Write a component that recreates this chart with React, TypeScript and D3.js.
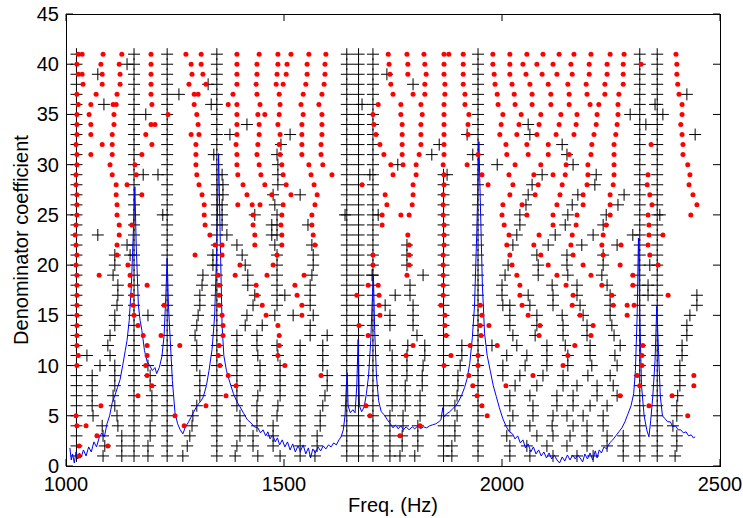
import React from 'react';
import * as d3 from 'd3';

const W = 743;
const H = 518;
const PL = 66, PR = 720, PT = 14, PB = 466;

const xTicks = [1000, 1500, 2000, 2500];
const yTicks = [0, 5, 10, 15, 20, 25, 30, 35, 40, 45];
const xLabel = 'Freq. (Hz)';
const yLabel = 'Denominator coefficient';

// physical (stable) modes: crosses at (nearly) constant frequency over an order range
const stableModes: { f: number; from: number; to: number }[] = [
  { f: 1024, from: 1, to: 41 },
  { f: 1156, from: 1, to: 41 },
  { f: 1232, from: 1, to: 41 },
  { f: 1346, from: 1, to: 41 },
  { f: 1644, from: 1, to: 41 },
  { f: 1671, from: 1, to: 41 },
  { f: 1704, from: 1, to: 41 },
  { f: 1866, from: 1, to: 29 },
  { f: 1945, from: 1, to: 41 },
  { f: 2316, from: 1, to: 41 },
  { f: 2356, from: 1, to: 41 },
];

// other stable poles ("+"), index 0 = order 1
const crossPoles: number[][] = [
  /* 1 */ [1085, 1128, 1188, 1268, 1388, 1440, 1491, 1537, 1571, 1743, 1766, 1800, 1885, 2018, 2064, 2117, 2172, 2209, 2278, 2397],
  /* 2 */ [1089, 1128, 1188, 1278, 1392, 1429, 1475, 1537, 1576, 1743, 1771, 1807, 1885, 2018, 2057, 2103, 2149, 2195, 2241, 2278, 2401],
  /* 3 */ [1085, 1128, 1193, 1284, 1399, 1429, 1475, 1537, 1576, 1743, 1771, 1807, 1892, 2011, 2080, 2117, 2156, 2195, 2241, 2278, 2401],
  /* 4 */ [1083, 1119, 1193, 1289, 1399, 1438, 1475, 1537, 1583, 1743, 1773, 1807, 1892, 2018, 2064, 2115, 2163, 2195, 2232, 2392],
  /* 5 */ [1062, 1117, 1197, 1291, 1399, 1438, 1484, 1537, 1583, 1743, 1773, 1812, 1897, 2025, 2071, 2117, 2149, 2186, 2232, 2401],
  /* 6 */ [1060, 1112, 1197, 1300, 1392, 1438, 1486, 1537, 1589, 1748, 1778, 1812, 1892, 2018, 2071, 2126, 2163, 2202, 2241, 2401],
  /* 7 */ [1060, 1108, 1197, 1307, 1392, 1440, 1491, 1537, 1594, 1748, 1778, 1812, 1897, 2018, 2064, 2126, 2163, 2218, 2264, 2403],
  /* 8 */ [1060, 1112, 1193, 1307, 1392, 1445, 1491, 1537, 1599, 1748, 1778, 1817, 1899, 2030, 2080, 2140, 2172, 2218, 2255, 2408],
  /* 9 */ [1060, 1112, 1193, 1307, 1392, 1445, 1491, 1537, 1599, 1748, 1782, 1817, 1899, 2002, 2041, 2094, 2140, 2197, 2248, 2408],
  /* 10 */ [1078, 1112, 1188, 1300, 1392, 1445, 1491, 1537, 1589, 1748, 1782, 1819, 1904, 2002, 2053, 2103, 2151, 2206, 2264, 2408],
  /* 11 */ [1048, 1101, 1300, 1392, 1440, 1486, 1537, 1589, 1748, 1782, 1823, 1908, 2011, 2057, 2103, 2151, 2202, 2259, 2413],
  /* 12 */ [1096, 1300, 1392, 1438, 1484, 1537, 1589, 1743, 1784, 1823, 1908, 1977, 2034, 2103, 2145, 2202, 2271, 2413],
  /* 13 */ [1101, 1296, 1392, 1438, 1560, 1599, 1805, 2025, 2076, 2140, 2195, 2257, 2424],
  /* 14 */ [1112, 1300, 1411, 1450, 1560, 1743, 1796, 2018, 2080, 2140, 2195, 2252, 2424],
  /* 15 */ [1112, 1188, 1303, 1415, 1479, 1521, 1567, 1743, 1796, 2018, 2080, 2138, 2186, 2248, 2431],
  /* 16 */ [1117, 1307, 1429, 1484, 1560, 1732, 1796, 2002, 2018, 2064, 2117, 2179, 2248, 2447],
  /* 17 */ [1119, 1307, 1433, 1484, 1502, 1560, 1755, 1789, 2000, 2060, 2117, 2172, 2248, 2335, 2447],
  /* 18 */ [1119, 1312, 1417, 1484, 1560, 1789, 2000, 2115, 2172, 2241, 2335],
  /* 19 */ [1108, 1314, 1417, 1484, 1564, 1702, 1819, 2007, 2083, 2151, 2229],
  /* 20 */ [1112, 1337, 1411, 1484, 1567, 1782, 2014, 2083, 2149, 2232, 2339],
  /* 21 */ [1112, 1147, 1337, 1404, 1484, 1567, 1782, 2080, 2149, 2232],
  /* 22 */ [1140, 1392, 1479, 1564, 1782, 2025, 2106, 2183, 2264],
  /* 23 */ [1073, 1369, 1472, 1484, 2034, 2122, 2209, 2300],
  /* 24 */ [1358, 1472, 1484, 1555, 2041, 2145, 2232],
  /* 25 */ [1222, 1358, 1433, 1484, 1640, 1716, 2041, 2151, 2239, 2362],
  /* 26 */ [1358, 1479, 2055, 2161, 2266],
  /* 27 */ [1360, 1475, 1537, 2060, 2174, 2280],
  /* 28 */ [1360, 1486, 2069, 2213],
  /* 29 */ [1177, 1211, 1358, 1486, 1697, 1874, 2092, 2216],
  /* 30 */ [1486, 1761, 1989, 2163],
  /* 31 */ [1339, 1484, 1839, 1933, 2149],
  /* 32 */ [1493, 1856, 2138],
  /* 33 */ [1376, 1514, 1920, 2064, 2443],
  /* 34 */ [1415, 2060, 2330],
  /* 35 */ [1183, 2294, 2369],
  /* 36 */ [1087, 1333, 1679, 2351],
  /* 37 */ [1259, 2424],
  /* 38 */ [1326, 1796],
  /* 39 */ [1073, 1736],
  /* 40 */ [1140],
  /* 41 */ [],
];

// unstable poles (red dots), index 0 = order 1
const dotPoles: number[][] = [
  /* 1 */ [1030],
  /* 2 */ [1030, 1096],
  /* 3 */ [1071, 1766],
  /* 4 */ [1025, 1046, 1271, 1812],
  /* 5 */ [1023, 1250, 1697, 1966, 2426],
  /* 6 */ [1080, 1321, 1688, 1954, 2337],
  /* 7 */ [1165, 1367, 1943, 2271, 2390],
  /* 8 */ [1197, 1390, 1933, 2009, 2316, 2440],
  /* 9 */ [1186, 1372, 1585, 1924, 2071, 2310, 2440],
  /* 10 */ [1025, 1183, 1353, 1502, 1867, 1945, 2140, 2321],
  /* 11 */ [1028, 1186, 1349, 1486, 1780, 1883, 1945, 2151, 2321],
  /* 12 */ [1025, 1186, 1261, 1351, 1489, 1796, 1927, 1989, 2167, 2323],
  /* 13 */ [1025, 1177, 1218, 1360, 1489, 1693, 1872, 1952, 2085, 2204],
  /* 14 */ [1025, 1165, 1360, 1486, 1672, 1869, 1950, 1970, 2087, 2209],
  /* 15 */ [1025, 1156, 1358, 1459, 1541, 1720, 1869, 1954, 2060, 2179, 2287],
  /* 16 */ [1025, 1154, 1225, 1351, 1450, 1541, 1718, 1860, 1950, 2046, 2161, 2255, 2287, 2303],
  /* 17 */ [1025, 1151, 1351, 1438, 1530, 1667, 1718, 1865, 2041, 2163, 2252, 2381],
  /* 18 */ [1025, 1147, 1186, 1351, 1436, 1525, 1693, 1716, 1865, 2041, 2147, 2229, 2300],
  /* 19 */ [1025, 1076, 1147, 1349, 1388, 1461, 1546, 1782, 1865, 2034, 2126, 2204, 2300],
  /* 20 */ [1023, 1142, 1399, 1475, 1704, 1787, 1865, 2023, 2106, 2186, 2271, 2358],
  /* 21 */ [1025, 1117, 1296, 1358, 1484, 1704, 1787, 1865, 2018, 2089, 2163, 2232, 2339],
  /* 22 */ [1023, 1117, 1342, 1358, 1433, 1495, 1571, 1787, 1867, 2011, 2073, 2158, 2229, 2273, 2335],
  /* 23 */ [1021, 1122, 1330, 1433, 1495, 1567, 1784, 1867, 2016, 2085, 2161, 2232, 2337, 2369],
  /* 24 */ [1023, 1122, 1151, 1319, 1429, 1493, 1564, 1725, 1867, 2005, 2117, 2170, 2239, 2337],
  /* 25 */ [1025, 1117, 1317, 1429, 1495, 1564, 1725, 1768, 1787, 1865, 2000, 2057, 2117, 2172, 2248, 2335, 2433],
  /* 26 */ [1025, 1117, 1317, 1394, 1427, 1445, 1498, 1571, 1736, 1794, 1865, 2002, 2046, 2126, 2186, 2248, 2344, 2447],
  /* 27 */ [1025, 1115, 1174, 1312, 1415, 1472, 1516, 1576, 1732, 1796, 1865, 2018, 2076, 2133, 2186, 2248, 2339, 2438],
  /* 28 */ [1023, 1115, 1140, 1305, 1406, 1456, 1505, 1569, 1679, 1796, 1867, 1968, 2025, 2083, 2138, 2195, 2255, 2333, 2429],
  /* 29 */ [1023, 1106, 1161, 1300, 1394, 1447, 1498, 1562, 1610, 1750, 1803, 1867, 1954, 2016, 2073, 2117, 2145, 2197, 2257, 2335, 2431],
  /* 30 */ [1025, 1101, 1158, 1298, 1392, 1443, 1495, 1557, 1589, 1745, 1773, 1803, 1865, 1920, 2030, 2089, 2147, 2197, 2257, 2426],
  /* 31 */ [1025, 1057, 1106, 1174, 1298, 1392, 1438, 1491, 1541, 1585, 1729, 1771, 1810, 1867, 1945, 2011, 2060, 2106, 2154, 2204, 2257, 2415],
  /* 32 */ [1023, 1083, 1106, 1197, 1298, 1390, 1440, 1489, 1541, 1585, 1720, 1771, 1814, 1867, 2009, 2057, 2106, 2206, 2257, 2342, 2415],
  /* 33 */ [1025, 1057, 1106, 1183, 1287, 1305, 1392, 1443, 1491, 1541, 1587, 1711, 1771, 1814, 1867, 1922, 1995, 2034, 2080, 2124, 2165, 2211, 2261, 2413],
  /* 34 */ [1025, 1057, 1110, 1195, 1204, 1303, 1392, 1443, 1486, 1541, 1587, 1706, 1771, 1814, 1867, 1922, 1998, 2039, 2085, 2131, 2170, 2216, 2264, 2410],
  /* 35 */ [1025, 1053, 1110, 1234, 1300, 1392, 1440, 1456, 1489, 1544, 1587, 1704, 1768, 1817, 1867, 1924, 2002, 2044, 2089, 2135, 2172, 2218, 2266, 2413],
  /* 36 */ [1028, 1057, 1108, 1115, 1197, 1294, 1372, 1392, 1445, 1491, 1539, 1580, 1716, 1768, 1814, 1867, 1915, 1991, 2030, 2069, 2112, 2154, 2202, 2222, 2266, 2413],
  /* 37 */ [1025, 1069, 1117, 1195, 1294, 1303, 1383, 1438, 1489, 1544, 1587, 1750, 1796, 1823, 1869, 1915, 1989, 2028, 2069, 2112, 2154, 2195, 2236, 2268, 2406],
  /* 38 */ [1039, 1083, 1124, 1195, 1282, 1321, 1392, 1436, 1482, 1498, 1550, 1592, 1745, 1823, 1869, 1911, 1984, 2023, 2064, 2106, 2151, 2193, 2236, 2278, 2403],
  /* 39 */ [1028, 1037, 1083, 1124, 1195, 1289, 1314, 1392, 1438, 1484, 1505, 1553, 1594, 1743, 1784, 1826, 1867, 1911, 1982, 2018, 2055, 2092, 2126, 2161, 2200, 2241, 2278, 2401],
  /* 40 */ [1025, 1080, 1122, 1195, 1287, 1310, 1392, 1438, 1486, 1507, 1553, 1594, 1741, 1784, 1823, 1867, 1911, 1979, 2018, 2048, 2080, 2117, 2158, 2200, 2241, 2278, 2319, 2401],
  /* 41 */ [1028, 1037, 1085, 1128, 1195, 1275, 1310, 1392, 1443, 1486, 1516, 1557, 1596, 1739, 1782, 1821, 1867, 1878, 1911, 1979, 2018, 2057, 2094, 2131, 2165, 2204, 2248, 2280, 2399],
];

// measured FRF magnitude (scaled to the order axis): [frequency Hz, level]
const frfPoints: [number, number][] = [
  [1009, 1.8], [1012, 0.6], [1015, 1.2], [1019, 0.3], [1023, 1.4], [1027, 0.7], [1031, 1.3], [1035, 0.9],
  [1040, 1.6], [1046, 1.0], [1052, 1.9], [1058, 1.4], [1064, 2.4], [1070, 1.9], [1076, 2.8], [1082, 3.3],
  [1088, 2.9], [1094, 4.2], [1100, 5.0], [1106, 6.3], [1112, 7.0], [1118, 7.8], [1124, 8.6], [1130, 10.0],
  [1136, 11.5], [1140, 12.5], [1145, 14.5], [1150, 18.0], [1155, 24.0], [1158, 27.8], [1161, 22.0],
  [1166, 16.0], [1170, 14.5], [1174, 13.5], [1180, 11.5], [1186, 10.4], [1192, 10.0], [1198, 9.5],
  [1204, 9.8], [1208, 9.2], [1214, 9.8], [1220, 10.9], [1225, 13.0], [1229, 17.0], [1232, 20.7],
  [1235, 16.0], [1239, 12.6], [1244, 8.5], [1250, 5.3], [1256, 4.2], [1262, 3.6], [1268, 3.2],
  [1274, 3.9], [1280, 4.3], [1286, 4.8], [1292, 5.3], [1298, 5.8], [1304, 6.2], [1310, 6.5], [1315, 6.9],
  [1322, 8.0], [1328, 9.5], [1335, 11.6], [1341, 15.0], [1346, 22.0], [1350, 31.1], [1354, 22.0],
  [1358, 14.0], [1362, 11.0], [1368, 9.5], [1376, 8.3], [1384, 7.2], [1392, 6.4], [1399, 5.9],
  [1408, 5.2], [1416, 4.6], [1424, 4.3], [1432, 3.9], [1440, 3.8], [1446, 3.3], [1452, 3.6], [1458, 3.0],
  [1463, 3.4], [1468, 2.7], [1474, 3.1], [1480, 2.4], [1485, 2.8], [1490, 2.1], [1496, 2.6], [1502, 1.9],
  [1508, 2.4], [1514, 1.6], [1520, 2.2], [1526, 1.4], [1532, 2.0], [1538, 1.5], [1544, 2.1], [1550, 1.2],
  [1556, 1.8], [1561, 0.8], [1566, 1.7], [1572, 1.3], [1578, 1.9], [1584, 1.5], [1590, 2.0], [1596, 1.7],
  [1602, 2.1], [1608, 1.9], [1614, 2.3], [1620, 2.1], [1626, 2.6], [1631, 2.9], [1636, 3.6], [1640, 5.0],
  [1643, 8.0], [1645, 9.3], [1647, 6.0], [1652, 5.3], [1658, 5.6], [1663, 5.3], [1667, 8.0], [1670, 12.6],
  [1673, 6.0], [1678, 5.4], [1684, 5.9], [1689, 7.2], [1694, 9.0], [1699, 12.5], [1702, 16.0],
  [1705, 19.1], [1708, 13.5], [1712, 9.0], [1717, 6.5], [1723, 5.4], [1730, 5.1], [1737, 4.6],
  [1744, 4.2], [1750, 3.8], [1756, 4.1], [1762, 3.7], [1768, 4.0], [1774, 3.6], [1780, 3.9], [1787, 3.6],
  [1794, 3.9], [1800, 3.7], [1807, 4.0], [1813, 3.7], [1820, 3.9], [1827, 3.8], [1834, 4.0], [1841, 4.1],
  [1848, 4.2], [1855, 4.4], [1860, 4.6], [1864, 5.8], [1867, 4.9], [1873, 5.2], [1880, 5.4], [1887, 5.7],
  [1894, 6.0], [1900, 6.4], [1907, 7.0], [1914, 7.8], [1920, 8.7], [1926, 10.2], [1932, 12.8],
  [1937, 16.0], [1942, 23.0], [1947, 32.3], [1951, 25.0], [1955, 18.0], [1960, 13.2], [1966, 11.0],
  [1973, 9.5], [1980, 8.0], [1987, 6.9], [1994, 5.8], [2002, 4.7], [2010, 3.9], [2017, 3.4], [2024, 3.2],
  [2030, 2.7], [2036, 3.0], [2042, 2.3], [2048, 2.6], [2054, 1.8], [2060, 2.2], [2066, 1.4], [2072, 1.9],
  [2078, 1.2], [2084, 1.6], [2090, 1.0], [2096, 1.4], [2102, 0.8], [2108, 1.3], [2114, 0.7], [2120, 1.1],
  [2126, 0.6], [2132, 0.3], [2138, 0.9], [2144, 0.5], [2150, 1.1], [2156, 0.6], [2162, 1.1], [2168, 0.7],
  [2174, 1.1], [2179, 0.8], [2185, 0.4], [2190, 1.2], [2196, 0.7], [2202, 1.3], [2208, 0.6], [2214, 1.5],
  [2218, 0.8], [2223, 1.6], [2228, 1.3], [2234, 1.9], [2240, 1.7], [2247, 2.3], [2254, 2.6], [2261, 3.0],
  [2268, 3.4], [2275, 3.8], [2282, 4.4], [2289, 5.2], [2296, 6.0], [2302, 7.2], [2306, 9.5],
  [2310, 15.0], [2313, 22.7], [2316, 15.0], [2320, 8.0], [2326, 5.0], [2332, 3.6], [2337, 2.9],
  [2341, 4.5], [2346, 7.0], [2351, 10.5], [2355, 15.9], [2359, 11.5], [2363, 7.0], [2368, 5.0],
  [2374, 4.7], [2380, 4.4], [2386, 4.4], [2392, 3.9], [2398, 4.0], [2404, 3.6], [2410, 3.6], [2416, 3.3],
  [2422, 3.4], [2428, 3.0], [2434, 3.1], [2439, 2.8], [2443, 2.9],
];

const FONT = '"Liberation Sans", Arial, Helvetica, sans-serif';
const FS = 20;

export default function App() {
  const x = d3.scaleLinear().domain([1000, 2500]).range([PL, PR]);
  const y = d3.scaleLinear().domain([0, 45]).range([PB, PT]);

  const ch = 6; // cross half width
  const cv = 6; // cross half height
  const crossPath = (f: number, n: number) => {
    const cx = x(f);
    const cy = y(n);
    return `M${cx - ch},${cy}H${cx + ch}M${cx},${cy - cv}V${cy + cv}`;
  };

  let crossD = '';
  stableModes.forEach((m) => {
    for (let n = m.from; n <= m.to; n++) crossD += crossPath(m.f, n);
  });
  crossPoles.forEach((row, i) => {
    row.forEach((f) => {
      crossD += crossPath(f, i + 1);
    });
  });

  const dots: { cx: number; cy: number }[] = [];
  dotPoles.forEach((row, i) => {
    row.forEach((f) => dots.push({ cx: x(f), cy: y(i + 1) }));
  });

  const line = d3
    .line<[number, number]>()
    .x((d) => x(d[0]))
    .y((d) => y(d[1]));

  const tl = 7;

  return (
    <svg width={W} height={H} style={{ display: 'block', position: 'absolute', left: 0, top: 0, background: '#fff' }}>
      <rect x={0} y={0} width={W} height={H} fill="#fff" />
      <path d={crossD} stroke="#000" strokeWidth={1} fill="none" />
      <path d={line(frfPoints) || ''} stroke="#0000ff" strokeWidth={1} fill="none" />
      {dots.map((d, i) => (
        <circle key={i} cx={d.cx} cy={d.cy} r={2.5} fill="#ff0000" />
      ))}
      {/* axes box */}
      <rect x={PL + 0.5} y={PT + 0.5} width={PR - PL} height={PB - PT} fill="none" stroke="#000" strokeWidth={1} />
      {xTicks.map((t) => (
        <g key={'x' + t}>
          <line x1={x(t)} x2={x(t)} y1={PB} y2={PB - tl} stroke="#000" />
          <line x1={x(t)} x2={x(t)} y1={PT} y2={PT + tl} stroke="#000" />
          <text x={x(t)} y={491} textAnchor="middle" fontFamily={FONT} fontSize={FS} fill="#000">
            {t}
          </text>
        </g>
      ))}
      {yTicks.map((t) => (
        <g key={'y' + t}>
          <line x1={PL} x2={PL + tl} y1={y(t)} y2={y(t)} stroke="#000" />
          <line x1={PR} x2={PR - tl} y1={y(t)} y2={y(t)} stroke="#000" />
          <text x={59} y={y(t) + 7} textAnchor="end" fontFamily={FONT} fontSize={FS} fill="#000">
            {t}
          </text>
        </g>
      ))}
      <text x={(PL + PR) / 2} y={512} textAnchor="middle" fontFamily={FONT} fontSize={FS} fill="#000">
        {xLabel}
      </text>
      <text
        transform={`translate(28,${(PT + PB) / 2}) rotate(-90)`}
        textAnchor="middle"
        fontFamily={FONT}
        fontSize={FS}
        fill="#000"
      >
        {yLabel}
      </text>
    </svg>
  );
}
